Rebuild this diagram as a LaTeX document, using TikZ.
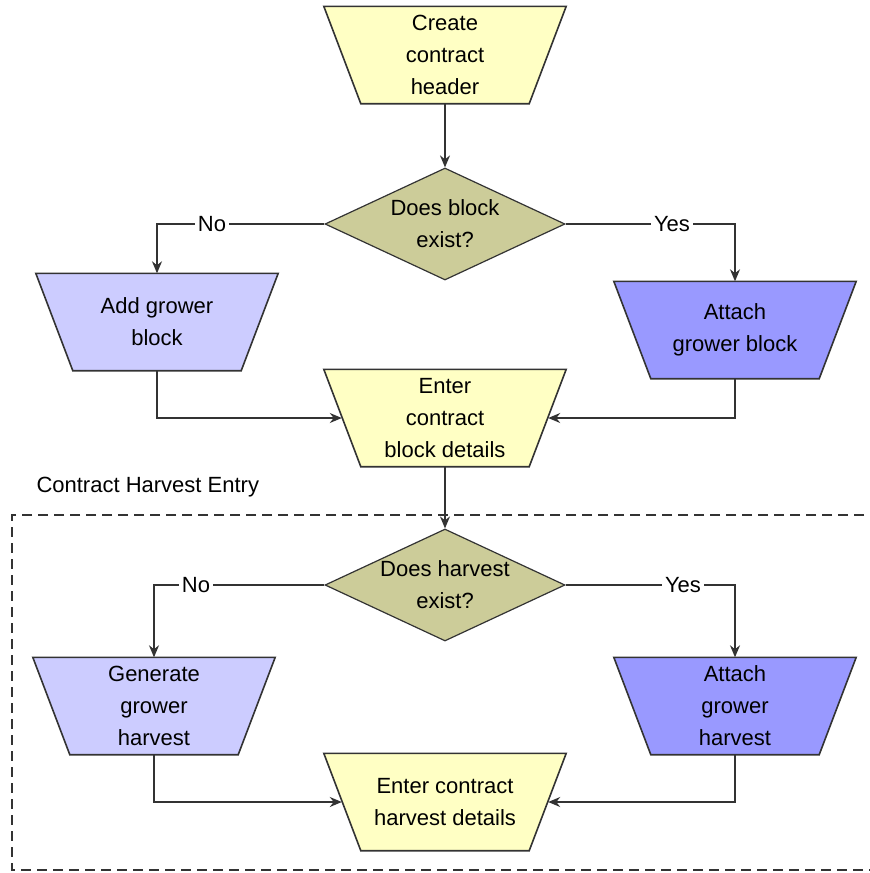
\documentclass[tikz,border=0pt]{standalone}
\usepackage{fontspec}
\setmainfont{Liberation Sans}
\usetikzlibrary{shapes.geometric,arrows.meta,backgrounds}
\definecolor{cyel}{HTML}{FFFFC4}
\definecolor{colive}{HTML}{CCCC99}
\definecolor{clblue}{HTML}{CCCCFF}
\definecolor{cdblue}{HTML}{9999FF}
\definecolor{cedge}{HTML}{333333}
\begin{document}
\begin{tikzpicture}[x=1pt,y=-1pt,
  trap/.style={rectangle, minimum width=242pt, minimum height=97pt,
    align=center, inner sep=0pt, font=\fontsize{22}{32}\selectfont},
  trapline/.style={draw=cedge, line width=1.6pt, line join=miter},
  dec/.style={diamond, aspect=2.14, minimum width=240pt, minimum height=112pt,
    draw=cedge, line width=1.2pt, fill=colive, align=center, inner sep=0pt,
    font=\fontsize{22}{32}\selectfont},
  conn/.style={draw=cedge, line width=1.4pt, -{Stealth[length=12pt,width=10pt]}},
  lbl/.style={fill=white, inner sep=3pt, font=\fontsize{22}{26}\selectfont},
  frame/.style={draw=cedge, line width=1.6pt, dash pattern=on 10pt off 6pt}
]
\useasboundingbox (0,0) rectangle (870,873);

\draw[frame] (880,515) -- (12,515) -- (12,870) -- (880,870);
\node[anchor=west, font=\fontsize{22}{26}\selectfont] (title) at (33,487) {Contract Harvest Entry};

\node[trap] (create) at (445,55) {Create\\contract\\header};
\node[dec] (dia1) at (445,224) {Does block\\exist?};
\node[trap] (add) at (157,322) {Add grower\\block};
\node[trap] (att1) at (735,330) {Attach\\grower block};
\node[trap] (enter1) at (445,418) {Enter\\contract\\block details};

\node[dec] (dia2) at (445,585) {Does harvest\\exist?};
\node[trap] (gen) at (154,706) {Generate\\grower\\harvest};
\node[trap] (att2) at (735,706) {Attach\\grower\\harvest};
\node[trap] (enter2) at (445,802) {Enter contract\\harvest details};

\begin{scope}[on background layer]
  \fill[white] (0,0) rectangle (870,873);
  \foreach \n/\c in {create/cyel, add/clblue, att1/cdblue, enter1/cyel,
                     gen/clblue, att2/cdblue, enter2/cyel}
    \draw[trapline, fill=\c] (\n.north west) -- (\n.north east)
      -- ([xshift=-37pt]\n.south east) -- ([xshift=37pt]\n.south west) -- cycle;
\end{scope}

\draw[conn] (create.south) -- (dia1.north);
\draw[conn] (dia1.west) -| (add.north);
\draw[conn] (dia1.east) -| (att1.north);
\draw[conn] (add.south) |- ([xshift=18pt]enter1.west);
\draw[conn] (att1.south) |- ([xshift=-18pt]enter1.east);
\draw[conn] (enter1.south) -- (dia2.north);
\draw[conn] (dia2.west) -| (gen.north);
\draw[conn] (dia2.east) -| (att2.north);
\draw[conn] (gen.south) |- ([xshift=18pt]enter2.west);
\draw[conn] (att2.south) |- ([xshift=-18pt]enter2.east);

\node[lbl] (no1) at (212,224) {No};
\node[lbl] (yes1) at (672,224) {Yes};
\node[lbl] (no2) at (196,585) {No};
\node[lbl] (yes2) at (683,585) {Yes};
\end{tikzpicture}
\end{document}
